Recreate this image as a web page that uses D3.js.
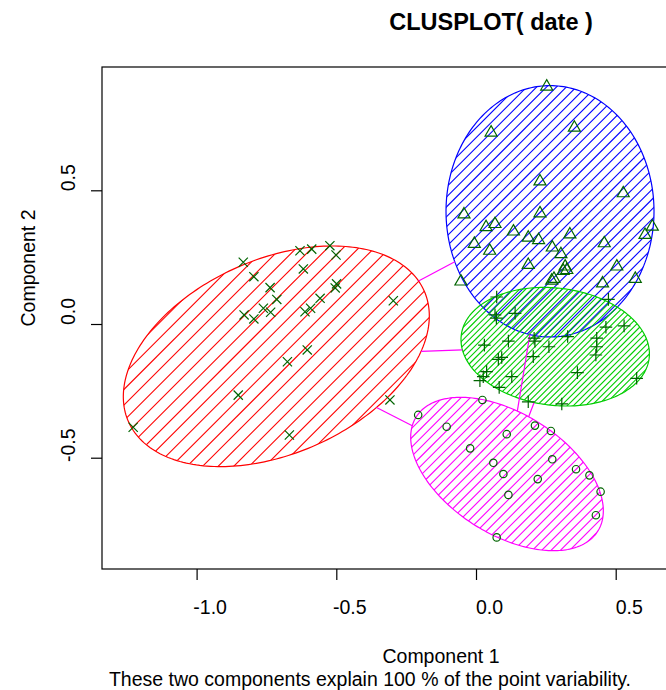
<!DOCTYPE html>
<html><head><meta charset="utf-8">
<script src="https://cdn.jsdelivr.net/npm/d3@7/dist/d3.min.js"></script>
<style>
body{margin:0;background:#fff}
text{font-family:"Liberation Sans", Arial, Helvetica, sans-serif;fill:#000}
</style>
</head><body>
<svg id="c" width="666" height="690"></svg>
<script>
// ---------------- data ----------------
const titleText = "CLUSPLOT( date )";
const xLabel = "Component 1";
const yLabel = "Component 2";
const subText = "These two components explain 100 % of the point variability.";
const xTicks = [-1.0, -0.5, 0.0, 0.5];
const yTicks = [-0.5, 0.0, 0.5];
const xDomain = [-1.3386, 1.4388];
const yDomain = [-0.9162, 0.9611];

// clusters (order of drawing): 1 magenta/circle, 2 blue/triangle, 3 green/plus, 4 red/cross
const clusterIds = [1, 2, 3, 4];
const clusterColors = ["#FF00FF", "#0000FF", "#00CD00", "#FF0000"];
const clusterSymbols = ["circle", "triangle", "plus", "cross"];
// ellipse centres, half-extents and shape correlation (data units)
const ellipseCx = [0.111, 0.2649, 0.2835, -0.7147];
const ellipseCy = [-0.561, 0.4215, -0.0849, -0.1208];
const ellipseXr = [0.3447, 0.3722, 0.3372, 0.5476];
const ellipseYr = [0.2868, 0.470, 0.2218, 0.4125];
const ellipseRho = [-0.48, 0.0, -0.12, 0.366];
const hatchSpacing = [6.6, 7.0, 4.3, 11.0];

const pointsC1 = [[0.023,-0.284],[-0.207,-0.340],[-0.105,-0.384],[0.211,-0.380],[0.268,-0.400],
  [0.110,-0.412],[-0.021,-0.465],[0.273,-0.506],[0.062,-0.519],[0.098,-0.561],[0.358,-0.543],
  [0.406,-0.566],[0.221,-0.580],[0.446,-0.627],[0.116,-0.639],[0.429,-0.715],[0.074,-0.798]];
const pointsC2 = [[0.253,0.894],[0.054,0.722],[0.352,0.740],[0.229,0.539],[0.527,0.495],
  [-0.043,0.416],[0.229,0.420],[0.036,0.368],[0.068,0.380],[0.134,0.352],[0.187,0.329],
  [0.224,0.320],[0.336,0.341],[0.459,0.308],[-0.006,0.306],[0.049,0.280],[0.273,0.292],
  [0.304,0.267],[0.187,0.227],[0.319,0.221],[0.325,0.208],[0.312,0.205],[0.504,0.221],
  [0.605,0.339],[0.631,0.370],[-0.054,0.165],[0.271,0.168],[0.279,0.175],[0.453,0.158],[0.570,0.175]];
const pointsC3 = [[0.074,0.101],[0.068,0.034],[0.073,0.022],[0.140,0.040],[0.474,0.092],
  [0.465,-0.012],[0.530,-0.007],[0.208,-0.053],[0.211,-0.064],[0.328,-0.047],[0.432,-0.053],
  [0.432,-0.085],[0.429,-0.116],[0.116,-0.064],[0.261,-0.085],[0.030,-0.079],[0.205,-0.122],
  [0.092,-0.125],[0.080,-0.132],[0.363,-0.182],[0.038,-0.178],[0.026,-0.197],[0.128,-0.197],
  [0.014,-0.212],[0.083,-0.237],[0.575,-0.203],[0.187,-0.291],[0.307,-0.299]];
const pointsC4 = [[-0.833,0.231],[-0.795,0.177],[-0.737,0.136],[-0.713,0.092],[-0.630,0.274],
  [-0.588,0.280],[-0.523,0.293],[-0.501,0.258],[-0.618,0.206],[-0.499,0.150],[-0.504,0.135],
  [-0.558,0.096],[-0.592,0.059],[-0.612,0.046],[-0.761,0.059],[-0.735,0.044],[-0.830,0.034],
  [-0.795,0.019],[-0.604,-0.097],[-0.675,-0.141],[-0.851,-0.266],[-1.227,-0.386],[-0.668,-0.415],
  [-0.296,0.087],[-0.308,-0.284]];
const clusterPoints = [pointsC1, pointsC2, pointsC3, pointsC4];

// ---------------- layout ----------------
const plotLeft = 102, plotRight = 878, plotTop = 67, plotBottom = 569;
const baseFont = 19.5;
const svg = d3.select("#c");
const x = d3.scaleLinear().domain(xDomain).range([plotLeft, plotRight]);
const y = d3.scaleLinear().domain(yDomain).range([plotBottom, plotTop]);
const defs = svg.append("defs");
defs.append("clipPath").attr("id", "plotclip").append("rect")
  .attr("x", plotLeft).attr("y", plotTop)
  .attr("width", plotRight - plotLeft).attr("height", plotBottom - plotTop);

function ellipsePts(i, n = 240) {
  const s = Math.sqrt(1 - ellipseRho[i] * ellipseRho[i]);
  const out = [];
  for (let k = 0; k < n; k++) {
    const t = 2 * Math.PI * k / n;
    const ex = ellipseCx[i] + ellipseXr[i] * Math.cos(t);
    const ey = ellipseCy[i] + ellipseYr[i] * (ellipseRho[i] * Math.cos(t) + s * Math.sin(t));
    out.push([x(ex), y(ey)]);
  }
  return out;
}
// boundary distance factor along direction (data units)
function boundaryScale(i, dx, dy) {
  const a = ellipseXr[i], c = ellipseYr[i] * ellipseRho[i];
  const e = ellipseYr[i] * Math.sqrt(1 - ellipseRho[i] * ellipseRho[i]);
  const u = dx / a, v = (-c * dx / a + dy) / e;
  return 1 / Math.hypot(u, v);
}

const plot = svg.append("g").attr("clip-path", "url(#plotclip)");
const line = d3.line();

clusterIds.forEach((cid, i) => {
  const pts = ellipsePts(i);
  const cp = defs.append("clipPath").attr("id", "ell" + i);
  cp.append("path").attr("d", line(pts) + "Z");
  const xs = pts.map(p => p[0]), ys = pts.map(p => p[1]);
  const x0 = d3.min(xs), x1 = d3.max(xs), y0 = d3.min(ys), y1 = d3.max(ys);
  const ang = Math.PI / 4;
  const ux = Math.cos(ang), uy = -Math.sin(ang);
  const nx = Math.sin(ang), ny = Math.cos(ang);
  const proj = [[x0,y0],[x1,y0],[x0,y1],[x1,y1]].map(p => p[0]*nx + p[1]*ny);
  const pmin = d3.min(proj), pmax = d3.max(proj);
  const sp = hatchSpacing[i];
  const L = 600;
  const hg = plot.append("g").attr("clip-path", "url(#ell" + i + ")");
  for (let k = Math.ceil(pmin / sp); k <= Math.floor(pmax / sp); k++) {
    const px = nx * k * sp, py = ny * k * sp;
    hg.append("line")
      .attr("x1", px - ux * L).attr("y1", py - uy * L)
      .attr("x2", px + ux * L).attr("y2", py + uy * L)
      .attr("stroke", clusterColors[i]).attr("stroke-width", 1.1);
  }
  plot.append("path").attr("d", line(pts) + "Z")
    .attr("fill", "none").attr("stroke", clusterColors[i]).attr("stroke-width", 1.2);
});

// distance lines between non-overlapping ellipses
for (let i = 0; i < clusterIds.length; i++) {
  for (let j = i + 1; j < clusterIds.length; j++) {
    const dx = ellipseCx[j] - ellipseCx[i], dy = ellipseCy[j] - ellipseCy[i];
    const si = boundaryScale(i, dx, dy), sj = boundaryScale(j, -dx, -dy);
    if (si + sj >= 1) continue;
    const ax = ellipseCx[i] + si * dx, ay = ellipseCy[i] + si * dy;
    const bx = ellipseCx[j] - sj * dx, by = ellipseCy[j] - sj * dy;
    plot.append("line")
      .attr("x1", x(ax)).attr("y1", y(ay)).attr("x2", x(bx)).attr("y2", y(by))
      .attr("stroke", "#FF00FF").attr("stroke-width", 1.2);
  }
}

// points
const pointColor = "#006400";
clusterIds.forEach((cid, i) => {
  const g = plot.append("g").attr("fill", "none").attr("stroke", pointColor).attr("stroke-width", 1.2);
  clusterPoints[i].forEach(p => {
    const cx = x(p[0]), cy = y(p[1]);
    const kind = clusterSymbols[i];
    if (kind === "circle") {
      g.append("circle").attr("cx", cx).attr("cy", cy).attr("r", 3.7);
    } else if (kind === "triangle") {
      g.append("path").attr("d", `M${cx},${cy-5.3}L${cx+6},${cy+5.1}L${cx-6},${cy+5.1}Z`);
    } else if (kind === "plus") {
      g.append("path").attr("d", `M${cx-6.3},${cy}H${cx+6.3}M${cx},${cy-6.3}V${cy+6.3}`);
    } else {
      const r = 4.6;
      g.append("path").attr("d", `M${cx-r},${cy-r}L${cx+r},${cy+r}M${cx-r},${cy+r}L${cx+r},${cy-r}`);
    }
  });
});

// frame
svg.append("rect").attr("x", plotLeft).attr("y", plotTop)
  .attr("width", plotRight - plotLeft).attr("height", plotBottom - plotTop)
  .attr("fill", "none").attr("stroke", "#000").attr("stroke-width", 1.2);

// axes
const fmt = d => d.toFixed(1);
const xa = svg.append("g").attr("transform", `translate(0,${plotBottom})`)
  .call(d3.axisBottom(x).tickValues(xTicks).tickFormat(fmt).tickSize(11));
xa.select(".domain").remove();
xa.selectAll(".tick line").attr("stroke", "#000").attr("stroke-width", 1.2);
xa.selectAll(".tick text").attr("x", 13).attr("y", 45).attr("dy", 0)
  .attr("font-size", baseFont).attr("font-family", "Liberation Sans, Arial, sans-serif").attr("fill", "#000");

const ya = svg.append("g").attr("transform", `translate(${plotLeft},0)`)
  .call(d3.axisLeft(y).tickValues(yTicks).tickFormat(fmt).tickSize(11));
ya.select(".domain").remove();
ya.selectAll(".tick line").attr("stroke", "#000").attr("stroke-width", 1.2);
ya.selectAll(".tick text").attr("x", 0).attr("y", 0).attr("dy", 0)
  .attr("text-anchor", "middle").attr("transform", "translate(-27,-13) rotate(-90)")
  .attr("font-size", baseFont).attr("font-family", "Liberation Sans, Arial, sans-serif").attr("fill", "#000");

// titles
svg.append("text").attr("x", 491).attr("y", 30).attr("text-anchor", "middle")
  .attr("font-size", 23.5).attr("font-weight", "bold").text(titleText);
svg.append("text").attr("x", 441).attr("y", 663).attr("text-anchor", "middle")
  .attr("font-size", baseFont).text(xLabel);
svg.append("text").attr("x", 370).attr("y", 686).attr("text-anchor", "middle")
  .attr("font-size", baseFont).text(subText);
svg.append("text").attr("transform", "translate(35,268) rotate(-90)").attr("text-anchor", "middle")
  .attr("font-size", baseFont).text(yLabel);
</script>
</body></html>
